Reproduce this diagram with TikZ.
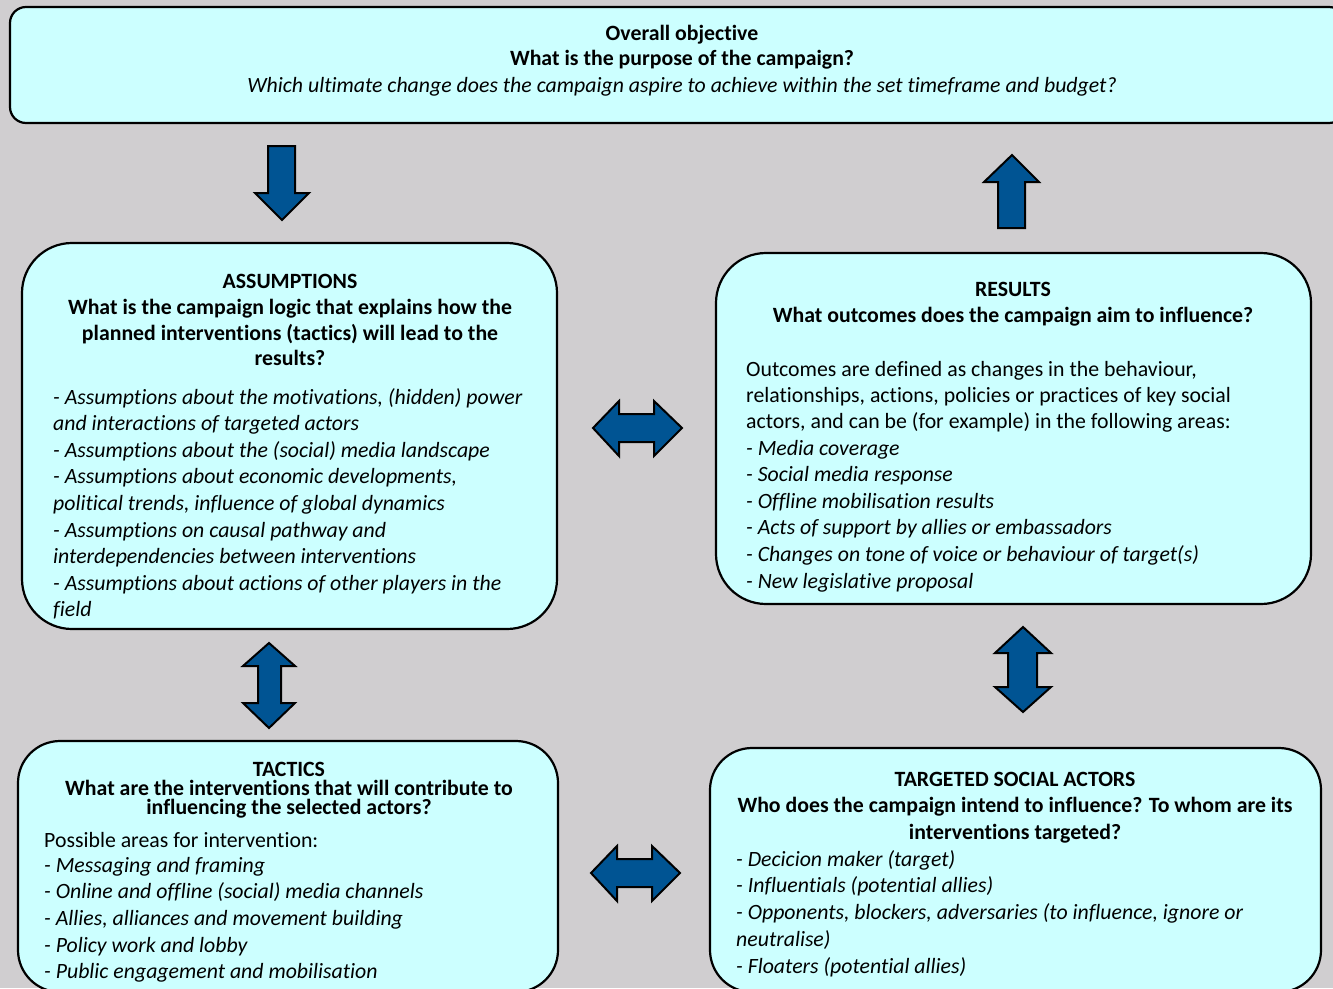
\documentclass[tikz,border=0pt]{standalone}
\usepackage{fontspec}
\setmainfont{Carlito}[Ligatures=NoCommon]
\definecolor{pagegray}{RGB}{208,206,208}
\definecolor{boxfill}{RGB}{204,255,255}
\definecolor{arrowblue}{RGB}{0,84,147}
\newcommand\panelfont{\fontsize{21.8}{24}\selectfont}
\tikzset{
  panel/.style={draw=black, line width=2.2pt, fill=boxfill, rounded corners=#1, inner sep=0pt},
  blockarrow/.style={draw=black, line width=2pt, fill=arrowblue, line join=miter},
  head/.style={inner sep=0pt, anchor=base, font=\panelfont\bfseries},
  body/.style={inner sep=0pt, anchor=base west, font=\panelfont},
  item/.style={inner sep=0pt, anchor=base west, font=\panelfont\itshape},
  itemc/.style={inner sep=0pt, anchor=base, font=\panelfont\itshape},
}
\begin{document}
\begin{tikzpicture}[x=1pt, y=-1pt]
  % page
  \fill[pagegray] (0,0) rectangle (1333,988);
  \useasboundingbox (0,0) rectangle (1333,988);

  % panels
  \node[panel=16pt, minimum width=1335pt, minimum height=116pt] (objective) at (677.5,65) {};
  \node[panel=50pt, minimum width=535pt, minimum height=386pt] (assumptions) at (289.5,436) {};
  \node[panel=50pt, minimum width=595pt, minimum height=351pt] (results) at (1013.5,428.5) {};
  \node[panel=42pt, minimum width=540pt, minimum height=251pt] (tactics) at (288,866.5) {};
  \node[panel=42pt, minimum width=611pt, minimum height=244pt] (actors) at (1015.5,870) {};

  % overall objective
  \node[head] (objT) at (682,40) {Overall objective};
  \node[head] (objQ) at (682,65) {What is the purpose of the campaign?};
  \node[itemc] (objD) at (682,92) {Which ultimate change does the campaign aspire to achieve within the set timeframe and budget?};

  % assumptions
  \node[head] (asT) at (290,288) {ASSUMPTIONS};
  \node[head] (asQ1) at (290,314) {What is the campaign logic that explains how the};
  \node[head] (asQ2) at (290,340) {planned interventions (tactics) will lead to the};
  \node[head] (asQ3) at (290,365) {results?};
  \foreach \t [count=\i] in {
      {- Assumptions about the motivations, (hidden) power},
      {and interactions of targeted actors},
      {- Assumptions about the (social) media landscape},
      {- Assumptions about economic developments,},
      {political trends, influence of global dynamics},
      {- Assumptions on causal pathway and},
      {interdependencies between interventions},
      {- Assumptions about actions of other players in the},
      {field}}
    \node[item] (asL\i) at (53,{404+(\i-1)*26.6}) {\t};

  % results
  \node[head] (reT) at (1013,296) {RESULTS};
  \node[head] (reQ) at (1013,322) {What outcomes does the campaign aim to influence?};
  \foreach \t [count=\i] in {
      {Outcomes are defined as changes in the behaviour,},
      {relationships, actions, policies or practices of key social},
      {actors, and can be (for example) in the following areas:}}
    \node[body] (reB\i) at (746,{376+(\i-1)*26}) {\t};
  \foreach \t [count=\i] in {
      {- Media coverage},
      {- Social media response},
      {- Offline mobilisation results},
      {- Acts of support by allies or embassadors},
      {- Changes on tone of voice or behaviour of target(s)},
      {- New legislative proposal}}
    \node[item] (reL\i) at (746,{455+(\i-1)*26.6}) {\t};

  % tactics
  \node[head] (taT) at (289,776) {TACTICS};
  \node[head] (taQ1) at (289,795) {What are the interventions that will contribute to};
  \node[head] (taQ2) at (289,814) {influencing the selected actors?};
  \node[body] (taB) at (44,847) {Possible areas for intervention:};
  \foreach \t [count=\i] in {
      {- Messaging and framing},
      {- Online and offline (social) media channels},
      {- Allies, alliances and movement building},
      {- Policy work and lobby},
      {- Public engagement and mobilisation}}
    \node[item] (taL\i) at (44,{872+(\i-1)*26.7}) {\t};

  % targeted social actors
  \node[head] (acT) at (1015,786) {TARGETED SOCIAL ACTORS};
  \node[head] (acQ1) at (1015,812) {Who does the campaign intend to influence? To whom are its};
  \node[head] (acQ2) at (1015,839) {interventions targeted?};
  \foreach \t [count=\i] in {
      {- Decicion maker (target)},
      {- Influentials (potential allies)},
      {- Opponents, blockers, adversaries (to influence, ignore or},
      {neutralise)},
      {- Floaters (potential allies)}}
    \node[item] (acL\i) at (736,{866+(\i-1)*26.8}) {\t};

  % block arrows
  \filldraw[blockarrow] (268,146) -- (295,146) -- (295,193) -- (309,193) -- (282,220)
    -- (255,193) -- (268,193) -- cycle;
  \filldraw[blockarrow] (998,228) -- (1025,228) -- (1025,182) -- (1039,182) -- (1012,155)
    -- (984,182) -- (998,182) -- cycle;
  \filldraw[blockarrow] (593,428) -- (619,401) -- (619,414) -- (654,414) -- (654,401)
    -- (682,428) -- (654,456) -- (654,442) -- (619,442) -- (619,456) -- cycle;
  \filldraw[blockarrow] (591,873) -- (617,846) -- (617,859) -- (652,859) -- (652,846)
    -- (680,873) -- (652,901) -- (652,887) -- (617,887) -- (617,901) -- cycle;
  \filldraw[blockarrow] (269,643) -- (295,666) -- (281,666) -- (281,703) -- (295,703)
    -- (269,728) -- (243,703) -- (258,703) -- (258,666) -- (243,666) -- cycle;
  \filldraw[blockarrow] (1023,627) -- (1051,653) -- (1037,653) -- (1037,687) -- (1051,687)
    -- (1023,712) -- (995,687) -- (1008,687) -- (1008,653) -- (995,653) -- cycle;
\end{tikzpicture}
\end{document}
